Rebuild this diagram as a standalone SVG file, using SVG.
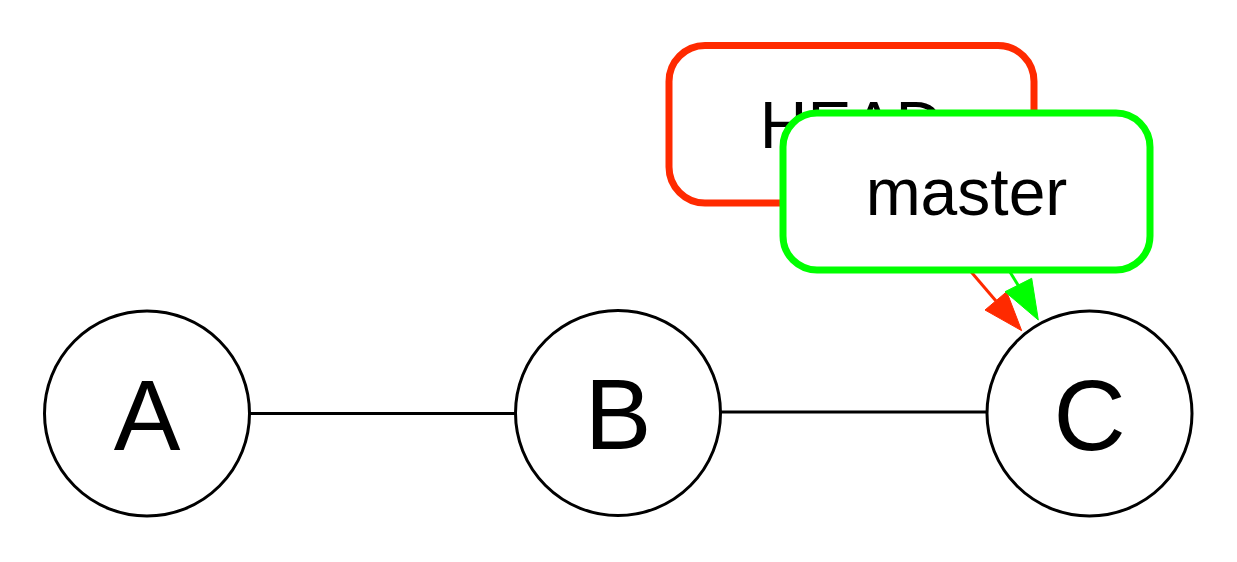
<svg xmlns="http://www.w3.org/2000/svg" width="1237" height="562" viewBox="0 0 1237 562">
<style>
  .commit { fill: #ffffff; stroke: #000000; stroke-width: 3; }
  .clabel { font-family: "Liberation Sans", Arial, sans-serif; font-size: 100px; fill: #000000; text-anchor: middle; }
  .blabel { font-family: "Liberation Sans", Arial, sans-serif; font-size: 66px; fill: #000000; text-anchor: middle; }
  .edge { fill: none; stroke: #000000; stroke-width: 3; }
</style>
<rect x="0" y="0" width="1237" height="562" fill="#ffffff"/>
<g id="HEAD">
  <rect x="669" y="45.5" width="365" height="157.5" rx="36" ry="36" fill="#ffffff" stroke="#ff2a00" stroke-width="7"/>
  <text class="blabel" x="851.5" y="148">HEAD</text>
</g>
<g id="connectors">
  <line class="edge" x1="250" y1="413.5" x2="516" y2="413.5"/>
  <line class="edge" x1="720" y1="412" x2="987" y2="412"/>
  <line x1="914" y1="205" x2="996" y2="301" stroke="#ff2a00" stroke-width="3"/>
  <polygon points="1021.7,330.7 985,310 1006.7,291.7" fill="#ff2a00" stroke="#ff2a00" stroke-width="1"/>
  <line x1="1010" y1="272" x2="1018.3" y2="285.5" stroke="#00ff00" stroke-width="3"/>
  <polygon points="1038.3,320 1005,291.7 1031.7,278.3" fill="#00ff00" stroke="#00ff00" stroke-width="1"/>
</g>
<g id="master">
  <rect x="783" y="113" width="367" height="157" rx="34" ry="34" fill="#ffffff" stroke="#00ff00" stroke-width="7"/>
  <text class="blabel" x="966.5" y="215">master</text>
</g>
<g id="A">
  <circle class="commit" cx="147" cy="413.5" r="102.5"/>
  <text class="clabel" x="147" y="449.5">A</text>
</g>
<g id="B">
  <circle class="commit" cx="618" cy="413" r="102.5"/>
  <text class="clabel" x="618" y="449">B</text>
</g>
<g id="C">
  <circle class="commit" cx="1089.5" cy="413.5" r="102.5"/>
  <text class="clabel" x="1089.5" y="449.5">C</text>
</g>
</svg>
